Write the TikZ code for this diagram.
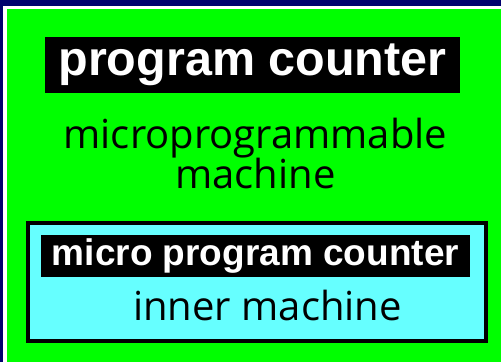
\documentclass[tikz,border=0pt]{standalone}
\usepackage{fontspec}
\setmainfont{Liberation Sans}
\newfontfamily\handfont{Open Sans}
\definecolor{navyback}{RGB}{0,0,110}
\definecolor{brightgreen}{HTML}{00FF00}
\definecolor{lightcyan}{HTML}{66FFFF}
\begin{document}
\begin{tikzpicture}[x=1pt,y=-1pt,
    every node/.style={inner sep=0pt},
    tag/.style={fill=black,text=white},
    hand/.style={text=black,align=center}]
    % frame
    \fill [navyback] (0,0) rectangle (501,362);
    \fill [white] (3,5.5) rectangle (501,362);
    \fill [brightgreen] (7,9) rectangle (501,362);
    \useasboundingbox (0,0) rectangle (501,362);
    % outer machine
    \node [tag, minimum width=415pt, minimum height=56pt,
        font={\fontsize{48.5}{48.5}\selectfont\bfseries}] (pc) at (252.5,65) {program counter};
    \node [hand, anchor=base, font={\fontsize{40}{40}\selectfont\handfont}] (outer) at (255.5,188) {microprogrammable\\machine};
    % inner machine
    \node [draw=black, line width=4pt, fill=lightcyan, minimum width=458pt, minimum height=118pt] (inner) at (257,282) {};
    \node [tag, minimum width=429pt, minimum height=42.5pt,
        font={\fontsize{37}{37}\selectfont\bfseries}] (mpc) at (255.5,256) {micro program counter};
    \node [hand, anchor=base, font={\fontsize{40}{40}\selectfont\handfont}] (innertext) at (267.5,320) {inner machine};
\end{tikzpicture}
\end{document}
